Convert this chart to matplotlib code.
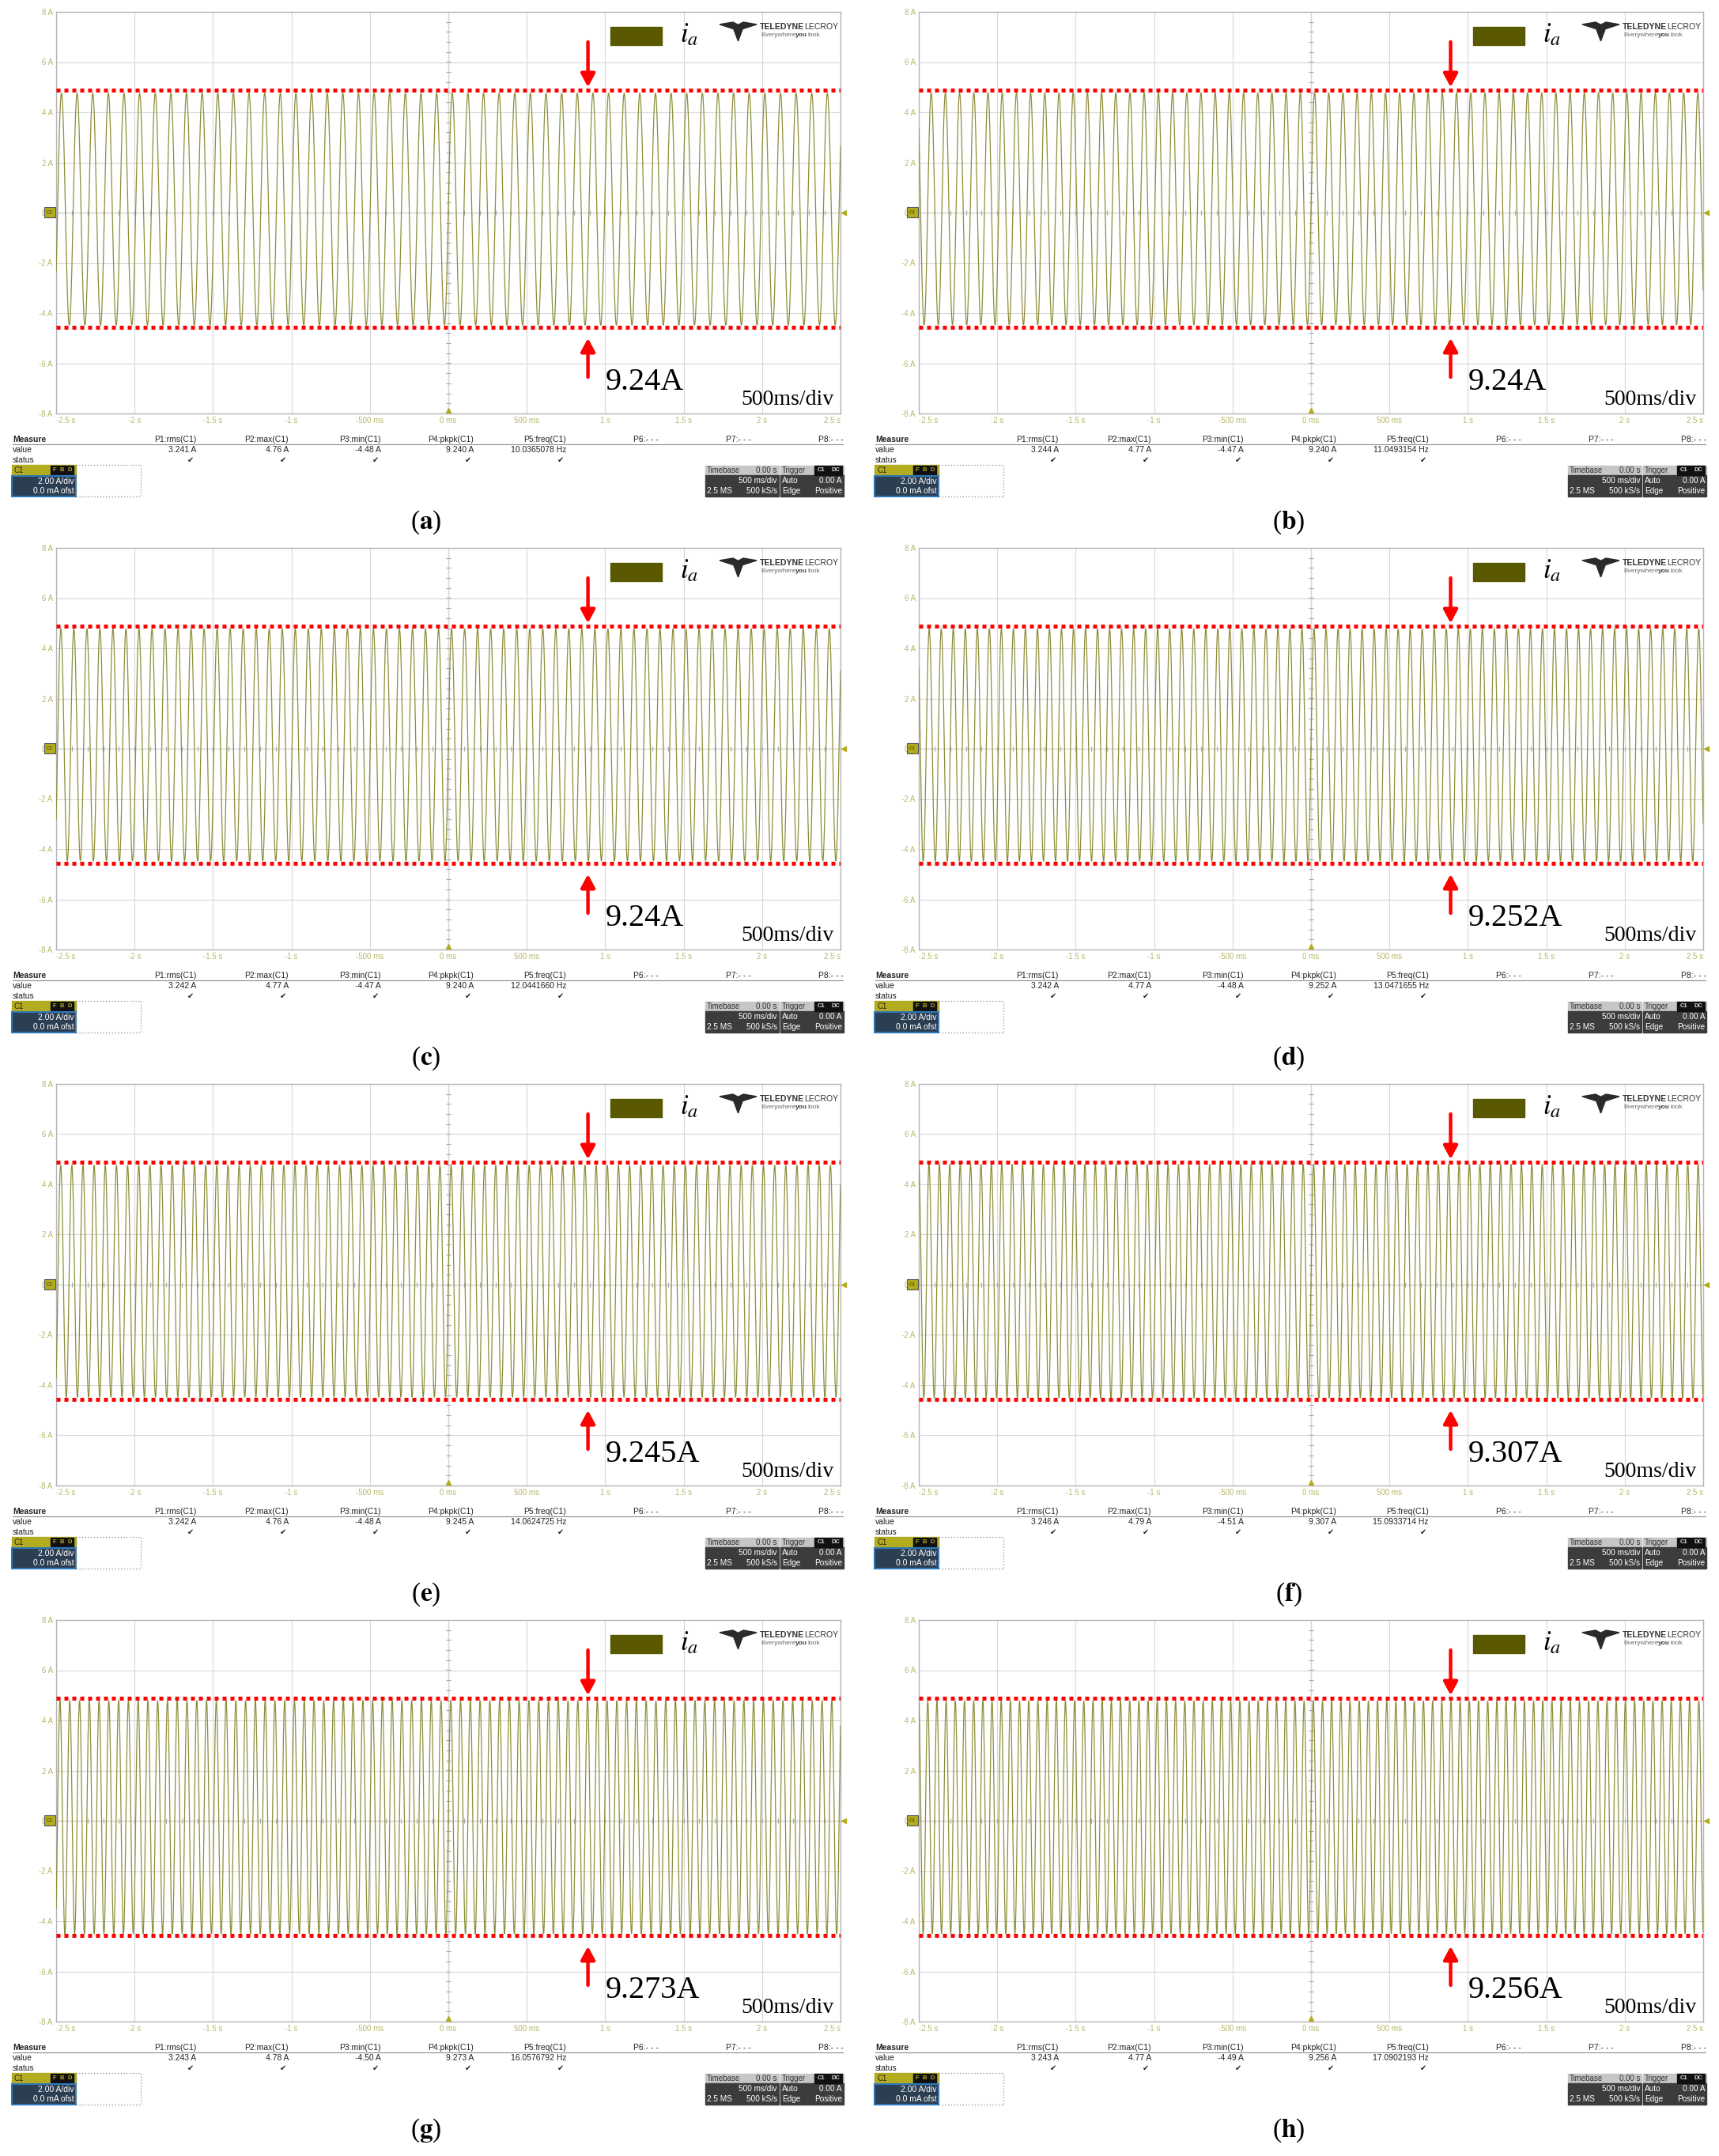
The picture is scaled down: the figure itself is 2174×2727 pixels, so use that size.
import matplotlib.pyplot as plt
import matplotlib.patches as patches
import numpy as np

plt.rcParams["font.family"] = ["Liberation Sans", "DejaVu Sans"]
plt.rcParams["mathtext.fontset"] = "stix"

W, H = 2174, 2727

# readings of the eight scope screens (a)..(h)
panel_names = ["a", "b", "c", "d", "e", "f", "g", "h"]
rms_vals = ["3.241 A", "3.244 A", "3.242 A", "3.242 A", "3.242 A", "3.246 A", "3.243 A", "3.243 A"]
max_vals = [4.76, 4.77, 4.77, 4.77, 4.76, 4.79, 4.78, 4.77]
min_vals = [-4.48, -4.47, -4.47, -4.48, -4.48, -4.51, -4.50, -4.49]
pkpk_vals = ["9.240 A", "9.240 A", "9.240 A", "9.252 A", "9.245 A", "9.307 A", "9.273 A", "9.256 A"]
freq_vals = [10.0365078, 11.0493154, 12.0441660, 13.0471655, 14.0624725, 15.0933714, 16.0576792, 17.0902193]
pkpk_notes = ["9.24A", "9.24A", "9.24A", "9.252A", "9.245A", "9.307A", "9.273A", "9.256A"]

# red dotted marker levels (A) and arrow position (s)
upper_line = 4.87
lower_line = -4.56
arrow_t = 0.89

x_ticks = [-2.5, -2.0, -1.5, -1.0, -0.5, 0.0, 0.5, 1.0, 1.5, 2.0, 2.5]
x_tick_labels = ["-2.5 s", "-2 s", "-1.5 s", "-1 s", "-500 ms", "0 ms",
                 "500 ms", "1 s", "1.5 s", "2 s", "2.5 s"]
y_ticks = [-8, -6, -4, -2, 0, 2, 4, 6, 8]
y_tick_labels = ["-8 A", "-6 A", "-4 A", "-2 A", "0 A", "2 A", "4 A", "6 A", "8 A"]

col_heads = ["P1:rms(C1)", "P2:max(C1)", "P3:min(C1)", "P4:pkpk(C1)",
             "P5:freq(C1)", "P6:- - -", "P7:- - -", "P8:- - -"]

trace_col = "#8e8e3a"
tick_col = "#b8b86a"
scope_yellow = "#b3ac1e"

fig = plt.figure(figsize=(W / 100, H / 100), dpi=100)
fig.patch.set_facecolor("white")

# plot area inside a panel, pixels
PX0, PY0, PW, PH = 71, 15, 992, 508
DX, DY = 1091, 678

t = np.linspace(-2.5, 2.5, 12001)

for i in range(8):
    ox = (i % 2) * DX
    oy = (i // 2) * DY
    ax = fig.add_axes([(ox + PX0) / W, 1 - (oy + PY0 + PH) / H, PW / W, PH / H])
    ax.set_facecolor("none")
    ax.set_xlim(-2.5, 2.5)
    ax.set_ylim(-8, 8)
    ax.set_xticks(x_ticks)
    ax.set_xticklabels(x_tick_labels)
    ax.set_yticks(y_ticks)
    ax.set_yticklabels(y_tick_labels)
    ax.tick_params(length=0, labelsize=7, labelcolor=tick_col, pad=3)
    lbls = ax.get_xticklabels()
    lbls[0].set_ha("left")
    lbls[-1].set_ha("right")
    ax.grid(True, color="#d8d8d8", lw=0.8)
    for s in ax.spines.values():
        s.set_color("#b4b4b4")
        s.set_linewidth(1)
    ax.axhline(0, color="#a6a6a6", lw=0.9, zorder=1)
    ax.axvline(0, color="#a6a6a6", lw=0.9, zorder=1)
    yt = np.arange(-8, 8.01, 0.4)
    xt = np.arange(-2.5, 2.51, 0.1)
    ax.plot(np.zeros(len(yt)), yt, ls="none", marker="_", ms=4, mew=0.8, color="#a6a6a6")
    ax.plot(xt, np.zeros(len(xt)), ls="none", marker="|", ms=4, mew=0.8, color="#a6a6a6")

    mid = (max_vals[i] + min_vals[i]) / 2
    amp = (max_vals[i] - min_vals[i]) / 2
    ax.plot(t, mid + amp * np.sin(2 * np.pi * freq_vals[i] * t), color=trace_col, lw=0.9, zorder=3)

    ax.axhline(upper_line, color="red", lw=3.6, ls=(0, (1, 1)), zorder=5)
    ax.axhline(lower_line, color="red", lw=3.6, ls=(0, (1, 1)), zorder=5)

    arr = dict(arrowstyle="-|>,head_length=0.5,head_width=0.27", color="red",
               lw=3.2, shrinkA=0, shrinkB=0, mutation_scale=20)
    ax.annotate("", xy=(arrow_t, 5.0), xytext=(arrow_t, 6.8), arrowprops=arr, zorder=6)
    ax.annotate("", xy=(arrow_t, -5.0), xytext=(arrow_t, -6.55), arrowprops=arr, zorder=6)

    ax.text(1.0, -7.05, pkpk_notes[i], family="Liberation Serif", fontsize=29,
            va="baseline", ha="left", zorder=6)
    ax.text(2.455, -7.65, "500ms/div", family="Liberation Serif", fontsize=20,
            va="baseline", ha="right", zorder=6)

# overlay in pixel coordinates for the scope screen furniture
bg = fig.add_axes([0, 0, 1, 1])
bg.set_xlim(0, W)
bg.set_ylim(H, 0)
bg.axis("off")
bg.set_facecolor("none")


def rect(x, y, w, h, **kw):
    bg.add_patch(patches.Rectangle((x, y), w, h, **kw))


for i in range(8):
    ox = (i % 2) * DX
    oy = (i // 2) * DY

    # legend swatch and label
    rect(ox + 772, oy + 34, 65, 23, color="#5a5800")
    bg.text(ox + 860, oy + 44, r"$i_a$", fontsize=25, va="center", ha="left")

    # logo
    lx, ly, lw_, lh = ox + 910, oy + 28, 47, 24
    shape = [(0, 0.12), (0.36, 0.0), (0.5, 0.14), (0.64, 0.0), (1.0, 0.12),
             (0.62, 0.36), (0.5, 1.0), (0.38, 0.36)]
    bg.add_patch(patches.Polygon([(lx + a * lw_, ly + b * lh) for a, b in shape],
                                 closed=True, color="#2a2a2a"))
    bg.text(ox + 961, oy + 34, "TELEDYNE", fontsize=7.6, weight="bold", color="#333",
            va="center", ha="left")
    bg.text(ox + 1060, oy + 34, "LECROY", fontsize=7.6, color="#333", va="center", ha="right")
    bg.text(ox + 962, oy + 45, "Everywhere", fontsize=6, color="#666", va="center", ha="left")
    bg.text(ox + 1006, oy + 45, "you", fontsize=6, weight="bold", color="#444", va="center", ha="left")
    bg.text(ox + 1021, oy + 45, "look", fontsize=6, color="#666", va="center", ha="left")

    # channel marker, trigger markers
    rect(ox + 56, oy + 262, 14, 13, facecolor=scope_yellow, edgecolor="#555", lw=0.8)
    bg.text(ox + 63, oy + 268.5, "C1", fontsize=4.5, ha="center", va="center", color="#222")
    bg.plot(ox + 1067, oy + 269, marker="<", ms=4, color=scope_yellow)
    bg.plot(ox + 567, oy + 519, marker="^", ms=4, color=scope_yellow)

    # measure table
    bg.text(ox + 16, oy + 556, "Measure", fontsize=7.5, weight="bold", va="center", color="#222")
    bg.plot([ox + 16, ox + 1066], [oy + 561.5, oy + 561.5], color="#8a8a8a", lw=0.8)
    bg.text(ox + 16, oy + 569, "value", fontsize=7.5, va="center", color="#222")
    bg.text(ox + 16, oy + 582, "status", fontsize=7.5, va="center", color="#222")
    vals = [rms_vals[i], f"{max_vals[i]:.2f} A", f"{min_vals[i]:.2f} A", pkpk_vals[i],
            f"{freq_vals[i]:.7f} Hz"]
    for k in range(8):
        cx = ox + 248 + 117 * k
        bg.text(cx, oy + 556, col_heads[k], fontsize=7.5, va="center", ha="right", color="#222")
        if k < 5:
            bg.text(cx, oy + 569, vals[k], fontsize=7.5, va="center", ha="right", color="#222")
            bg.text(cx - 3, oy + 582, "\u2714", fontsize=7, va="center", ha="right", color="#222")

    # channel box
    rect(ox + 15, oy + 588, 81, 14, color=scope_yellow)
    bg.text(ox + 18, oy + 595, "C1", fontsize=7, va="center", color="#222")
    for j, ch in enumerate("FBD"):
        rect(ox + 64 + 10 * j, oy + 589, 9, 12, color="#111")
        bg.text(ox + 68.5 + 10 * j, oy + 595, ch, fontsize=5.5, weight="bold",
                va="center", ha="center", color=scope_yellow)
    rect(ox + 15, oy + 602, 81, 26, facecolor="#2b3e52", edgecolor="#2f79b8", lw=1.5)
    bg.text(ox + 94, oy + 609, "2.00 A/div", fontsize=7.5, va="center", ha="right", color="white")
    bg.text(ox + 94, oy + 621, "0.0 mA ofst", fontsize=7.5, va="center", ha="right", color="white")
    rect(ox + 96, oy + 588, 82, 40, fill=False, edgecolor="#8a8a8a", lw=0.9, ls=(0, (1, 2)))

    # timebase / trigger box
    rect(ox + 892, oy + 589, 93, 12, color="#c6c6c6")
    rect(ox + 892, oy + 601, 93, 27, color="#3c3c3c")
    rect(ox + 987, oy + 589, 80, 12, color="#c6c6c6")
    rect(ox + 987, oy + 601, 80, 27, color="#3c3c3c")
    bg.text(ox + 894, oy + 595, "Timebase", fontsize=7, va="center", color="#333")
    bg.text(ox + 983, oy + 595, "0.00 s", fontsize=7, va="center", ha="right", color="#333")
    bg.text(ox + 983, oy + 608, "500 ms/div", fontsize=7.2, va="center", ha="right", color="white")
    bg.text(ox + 894, oy + 621, "2.5 MS", fontsize=7.2, va="center", color="white")
    bg.text(ox + 983, oy + 621, "500 kS/s", fontsize=7.2, va="center", ha="right", color="white")
    bg.text(ox + 989, oy + 595, "Trigger", fontsize=7, va="center", color="#333")
    for j, ch in enumerate(["C1", "DC"]):
        rect(ox + 1030 + 18 * j, oy + 589, 17, 12, color="#111")
        bg.text(ox + 1038.5 + 18 * j, oy + 595, ch, fontsize=5.5, weight="bold",
                va="center", ha="center", color="#ddd")
    bg.text(ox + 989, oy + 608, "Auto", fontsize=7.2, va="center", color="white")
    bg.text(ox + 1065, oy + 608, "0.00 A", fontsize=7.2, va="center", ha="right", color="white")
    bg.text(ox + 989, oy + 621, "Edge", fontsize=7.2, va="center", color="white")
    bg.text(ox + 1065, oy + 621, "Positive", fontsize=7.2, va="center", ha="right", color="white")

    # sub-figure label
    bg.text(ox + 539, oy + 661, "($\\mathbf{" + panel_names[i] + "}$)", family="Liberation Serif",
            fontsize=24, ha="center", va="center")

fig.savefig("out.png", dpi=100)
